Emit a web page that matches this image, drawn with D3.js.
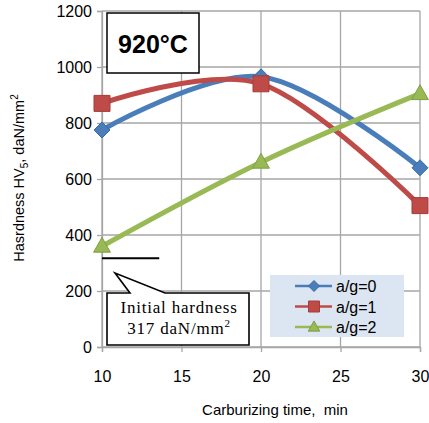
<!DOCTYPE html>
<html><head><meta charset="utf-8">
<script src="https://cdn.jsdelivr.net/npm/d3@7"></script>
<style>body{margin:0;background:#fff}svg{display:block}</style>
</head><body>
<script>
const times = [10, 20, 30];
const series0 = [775, 965, 640];
const series1 = [870, 940, 505];
const series2 = [360, 660, 905];
const seriesNames = ["a/g=0", "a/g=1", "a/g=2"];
const xTicks = [10, 15, 20, 25, 30];
const yTicks = [0, 200, 400, 600, 800, 1000, 1200];
const initialHardness = 317;

const W = 429, H = 423;
const FONT = "Liberation Sans, Arial, sans-serif";
const svg = d3.select("body").append("svg").attr("width", W).attr("height", H);
const x = d3.scaleLinear().domain([10, 30]).range([102, 420]);
const y = d3.scaleLinear().domain([0, 1200]).range([347, 11]);
const colors = ["#4A7EBB", "#BE4B48", "#98B954"];
const dark = ["#3A6AA5", "#A53C3A", "#7F9E44"];
const markers = ["diamond", "square", "triangle"];

// grid
const g = svg.append("g");
g.selectAll(".vg").data(xTicks).join("line")
  .attr("x1", d => x(d)).attr("x2", d => x(d)).attr("y1", y(1200)).attr("y2", y(0))
  .attr("stroke", "#a6a6a6").attr("stroke-width", 1.3);
g.selectAll(".hg").data(yTicks).join("line")
  .attr("x1", x(10)).attr("x2", x(30)).attr("y1", d => y(d)).attr("y2", d => y(d))
  .attr("stroke", "#a6a6a6").attr("stroke-width", 1.3);

// axes
const yAxis = d3.axisLeft(y).tickValues(yTicks).tickFormat(d3.format("d")).tickSize(5).tickPadding(5);
const xAxis = d3.axisBottom(x).tickValues(xTicks).tickFormat(d3.format("d")).tickSize(5).tickPadding(19);
const ya = svg.append("g").attr("transform", `translate(${x(10)},0)`).call(yAxis);
const xa = svg.append("g").attr("transform", `translate(0,${y(0)})`).call(xAxis);
[ya, xa].forEach(a => {
  a.select(".domain").attr("stroke", "#a6a6a6").attr("stroke-width", 1.3);
  a.selectAll(".tick line").attr("stroke", "#a6a6a6").attr("stroke-width", 1.3);
  a.selectAll("text").attr("fill", "#000").style("font-family", FONT).style("font-size", "16px");
});

// initial hardness line
svg.append("line").attr("x1", x(10)).attr("x2", x(13.6))
  .attr("y1", y(initialHardness)).attr("y2", y(initialHardness))
  .attr("stroke", "#000").attr("stroke-width", 2);

// series
const allSeries = [series0, series1, series2];
const line = d3.line().x(d => x(d[0])).y(d => y(d[1])).curve(d3.curveCardinal.tension(0));
allSeries.forEach((s, i) => {
  const pts = times.map((t, j) => [t, s[j]]);
  svg.append("path").attr("d", line(pts)).attr("fill", "none")
    .attr("stroke", colors[i]).attr("stroke-width", 5).attr("stroke-linejoin", "round");
});
function marker(sel, type, cx, cy, r, i) {
  let p;
  if (type === "diamond") p = `M${cx},${cy - r}L${cx + r},${cy}L${cx},${cy + r}L${cx - r},${cy}Z`;
  else if (type === "square") p = `M${cx - r},${cy - r}H${cx + r}V${cy + r}H${cx - r}Z`;
  else p = `M${cx},${cy - r * 1.1}L${cx + r * 1.05},${cy + r * 0.75}L${cx - r * 1.05},${cy + r * 0.75}Z`;
  sel.append("path").attr("d", p).attr("fill", colors[i]).attr("stroke", dark[i]).attr("stroke-width", 1);
}
allSeries.forEach((s, i) => {
  times.forEach((t, j) => {
    marker(svg, markers[i], x(t), y(s[j]), 8, i);
  });
});

// 920°C box
svg.append("rect").attr("x", 107).attr("y", 13).attr("width", 92).attr("height", 60)
  .attr("fill", "#fff").attr("stroke", "#000").attr("stroke-width", 1.5);
svg.append("text").attr("x", 153).attr("y", 53).attr("text-anchor", "middle")
  .style("font-family", FONT).style("font-weight", "bold").style("font-size", "25px")
  .text("920°C");

// callout
const cb = svg.append("g");
cb.append("path")
  .attr("d", "M107,293 H130 L115,273 L165,293 H249 V345 H107 Z")
  .attr("fill", "#fff").attr("stroke", "#000").attr("stroke-width", 1.6);
const ct = cb.append("text").attr("text-anchor", "middle")
  .style("font-family", "Liberation Serif, Times New Roman, serif").style("font-size", "17px")
  .style("letter-spacing", "0.8px");
ct.append("tspan").attr("x", 179).attr("y", 313).text("Initial hardness");
const t2 = ct.append("tspan").attr("x", 179).attr("y", 334);
t2.append("tspan").text("317 daN/mm");
t2.append("tspan").attr("dy", -7).style("font-size", "11px").text("2");

// legend
const lg = svg.append("g");
lg.append("rect").attr("x", 270).attr("y", 275).attr("width", 134).attr("height", 62).attr("fill", "#DCE6F2");
seriesNames.forEach((n, i) => {
  const yy = 286 + i * 20.5;
  lg.append("line").attr("x1", 295).attr("x2", 332).attr("y1", yy).attr("y2", yy)
    .attr("stroke", colors[i]).attr("stroke-width", 2.5);
  marker(lg, markers[i], 314, yy, 5.5, i);
  lg.append("text").attr("x", 336).attr("y", yy + 6)
    .style("font-family", FONT).style("font-size", "16px").text(n);
});

// axis titles
svg.append("text").attr("x", 275).attr("y", 415).attr("text-anchor", "middle")
  .style("font-family", FONT).style("font-size", "15px")
  .attr("xml:space", "preserve").text("Carburizing time,  min");
const yt = svg.append("text").attr("transform", "translate(24,178) rotate(-90)").attr("text-anchor", "middle")
  .style("font-family", FONT).style("font-size", "14.5px");
yt.append("tspan").text("Hasrdness HV");
yt.append("tspan").attr("dy", 4).style("font-size", "10px").text("5");
yt.append("tspan").attr("dy", -4).text(", daN/mm");
yt.append("tspan").attr("dy", -6).style("font-size", "10px").text("2");
</script>
</body></html>
